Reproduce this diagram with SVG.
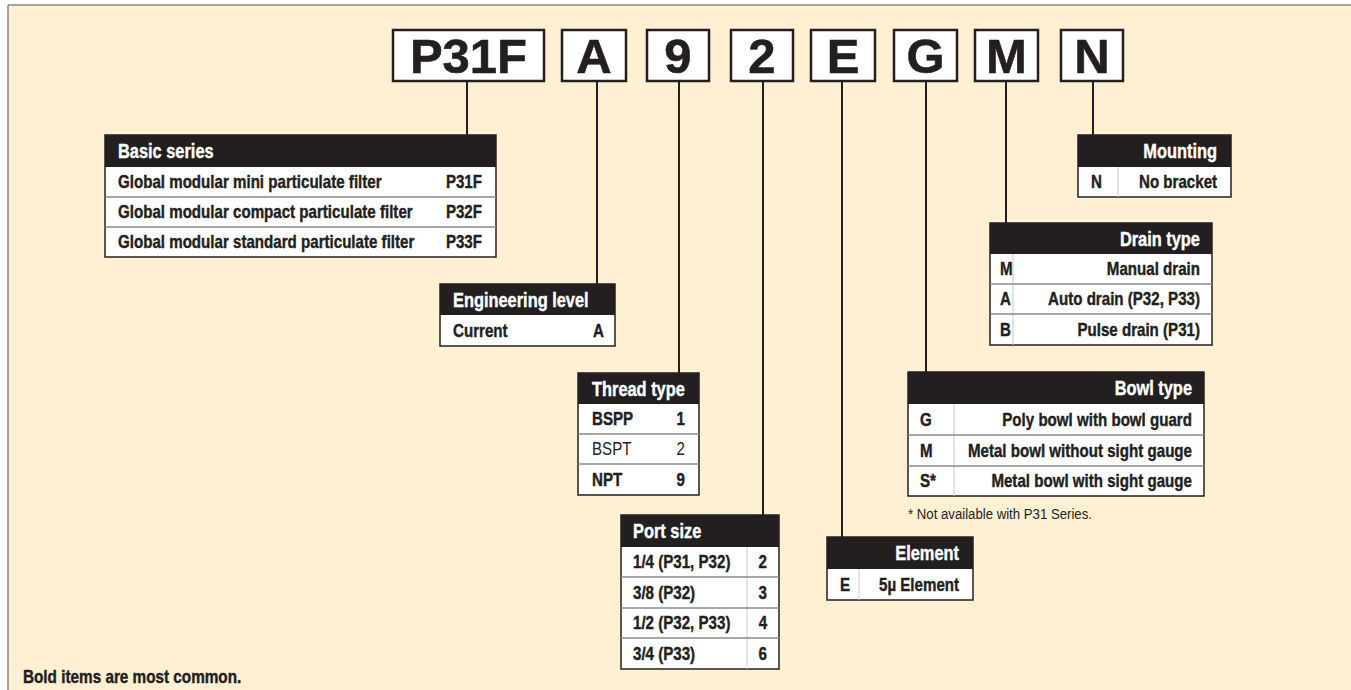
<svg xmlns="http://www.w3.org/2000/svg" width="1351" height="690" viewBox="0 0 1351 690">
<style>
.bg{fill:#fff0d4}
.code{fill:#fff;stroke:#231f20;stroke-width:2.5}
.big{font-family:"Liberation Sans",Arial,sans-serif;font-weight:bold;font-size:49px;fill:#231f20;text-anchor:middle;stroke:#231f20;stroke-width:0.6}
.tbl{fill:#fff;stroke:#231f20;stroke-width:1.5}
.hdr{fill:#231f20}
.sep{stroke:#8a8a8a;stroke-width:1.5}
.div{stroke:#c8c8c8;stroke-width:1}
.ht,.t,.note{transform-box:fill-box;transform-origin:0% 50%}
.ht{font-family:"Liberation Sans",Arial,sans-serif;font-weight:bold;font-size:20px;fill:#fff;stroke:#fff;stroke-width:0.4;transform:scaleX(0.82)}
.t{font-family:"Liberation Sans",Arial,sans-serif;font-weight:bold;font-size:18px;fill:#231f20;stroke:#231f20;stroke-width:0.4;transform:scaleX(0.84)}
.n{font-weight:normal;stroke:none}
.r{text-anchor:end;transform-origin:100% 50%}
.note{font-family:"Liberation Sans",Arial,sans-serif;font-size:15px;fill:#231f20;transform:scaleX(0.88)}
.leg{transform:scaleX(0.85)}
.con{stroke:#231f20;stroke-width:2;fill:none}
</style>
<rect x="0" y="0" width="1351" height="690" fill="#ffffff"/>
<rect class="bg" x="8" y="5" width="1343" height="685"/>
<line x1="8" y1="5" x2="1351" y2="5" stroke="#8a8a8a" stroke-width="1.5"/>
<line x1="8" y1="5" x2="8" y2="690" stroke="#8a8a8a" stroke-width="1.5"/>

<g id="connectors">
<line class="con" x1="467" y1="81" x2="467" y2="135"/>
<line class="con" x1="597" y1="81" x2="597" y2="284"/>
<line class="con" x1="679" y1="81" x2="679" y2="373"/>
<line class="con" x1="763" y1="81" x2="763" y2="515"/>
<line class="con" x1="842" y1="81" x2="842" y2="537"/>
<line class="con" x1="926" y1="81" x2="926" y2="372"/>
<line class="con" x1="1006" y1="81" x2="1006" y2="223"/>
<line class="con" x1="1093" y1="81" x2="1093" y2="135"/>
</g>

<g id="code-P31F"><rect class="code" x="393" y="30" width="151" height="51"/><text class="big" x="468.5" y="73">P31F</text></g>
<g id="code-A"><rect class="code" x="562" y="30" width="64" height="51"/><text class="big" x="594" y="73">A</text></g>
<g id="code-9"><rect class="code" x="647" y="30" width="62" height="51"/><text class="big" x="678" y="73">9</text></g>
<g id="code-2"><rect class="code" x="731" y="30" width="62" height="51"/><text class="big" x="762" y="73">2</text></g>
<g id="code-E"><rect class="code" x="811" y="30" width="64" height="51"/><text class="big" x="843" y="73">E</text></g>
<g id="code-G"><rect class="code" x="894" y="30" width="63" height="51"/><text class="big" x="925.5" y="73">G</text></g>
<g id="code-M"><rect class="code" x="975" y="30" width="63" height="51"/><text class="big" x="1006.5" y="73">M</text></g>
<g id="code-N"><rect class="code" x="1061" y="30" width="62" height="51"/><text class="big" x="1092" y="73">N</text></g>

<g id="basic-series">
<rect class="tbl" x="105" y="135" width="391" height="122"/>
<rect class="hdr" x="105" y="135" width="391" height="32"/>
<line class="sep" x1="105" y1="197" x2="496" y2="197"/>
<line class="sep" x1="105" y1="227" x2="496" y2="227"/>
<text class="ht" x="118" y="158">Basic series</text>
<text class="t" x="118" y="188">Global modular mini particulate filter</text><text class="t r" x="482" y="188">P31F</text>
<text class="t" x="118" y="218">Global modular compact particulate filter</text><text class="t r" x="482" y="218">P32F</text>
<text class="t" x="118" y="248">Global modular standard particulate filter</text><text class="t r" x="482" y="248">P33F</text>
</g>

<g id="engineering-level">
<rect class="tbl" x="440" y="284" width="175" height="62"/>
<rect class="hdr" x="440" y="284" width="175" height="31"/>
<text class="ht" x="453" y="307">Engineering level</text>
<text class="t" x="453" y="337">Current</text><text class="t r" x="604" y="337">A</text>
</g>

<g id="thread-type">
<rect class="tbl" x="578" y="373" width="121" height="122"/>
<rect class="hdr" x="578" y="373" width="121" height="31"/>
<line class="sep" x1="578" y1="434" x2="699" y2="434"/>
<line class="sep" x1="578" y1="464" x2="699" y2="464"/>
<text class="ht" x="592" y="396">Thread type</text>
<text class="t" x="592" y="425">BSPP</text><text class="t r" x="685" y="425">1</text>
<text class="t n" x="592" y="455">BSPT</text><text class="t n r" x="685" y="455">2</text>
<text class="t" x="592" y="486">NPT</text><text class="t r" x="685" y="486">9</text>
</g>

<g id="port-size">
<rect class="tbl" x="621" y="515" width="158" height="154"/>
<rect class="hdr" x="621" y="515" width="158" height="32"/>
<line class="div" x1="747" y1="547" x2="747" y2="669"/>
<line class="sep" x1="621" y1="577" x2="779" y2="577"/>
<line class="sep" x1="621" y1="608" x2="779" y2="608"/>
<line class="sep" x1="621" y1="638" x2="779" y2="638"/>
<text class="ht" x="633" y="538">Port size</text>
<text class="t" x="633" y="568">1/4 (P31, P32)</text><text class="t r" x="767" y="568">2</text>
<text class="t" x="633" y="599">3/8 (P32)</text><text class="t r" x="767" y="599">3</text>
<text class="t" x="633" y="629">1/2 (P32, P33)</text><text class="t r" x="767" y="629">4</text>
<text class="t" x="633" y="660">3/4 (P33)</text><text class="t r" x="767" y="660">6</text>
</g>

<g id="element">
<rect class="tbl" x="827" y="537" width="146" height="63"/>
<rect class="hdr" x="827" y="537" width="146" height="32"/>
<line class="div" x1="859" y1="569" x2="859" y2="600"/>
<text class="ht r" x="959" y="560">Element</text>
<text class="t" x="840" y="591">E</text><text class="t r" x="959" y="591">5µ Element</text>
</g>

<g id="bowl-type">
<rect class="tbl" x="908" y="372" width="296" height="124"/>
<rect class="hdr" x="908" y="372" width="296" height="32"/>
<line class="div" x1="954" y1="404" x2="954" y2="496"/>
<line class="sep" x1="908" y1="435" x2="1204" y2="435"/>
<line class="sep" x1="908" y1="466" x2="1204" y2="466"/>
<text class="ht r" x="1192" y="395">Bowl type</text>
<text class="t" x="920" y="426">G</text><text class="t r" x="1192" y="426">Poly bowl with bowl guard</text>
<text class="t" x="920" y="457">M</text><text class="t r" x="1192" y="457">Metal bowl without sight gauge</text>
<text class="t" x="920" y="487">S*</text><text class="t r" x="1192" y="487">Metal bowl with sight gauge</text>
</g>
<text id="footnote" class="note" x="908" y="519">* Not available with P31 Series.</text>

<g id="drain-type">
<rect class="tbl" x="990" y="223" width="222" height="122"/>
<rect class="hdr" x="990" y="223" width="222" height="31"/>
<line class="div" x1="1013" y1="254" x2="1013" y2="345"/>
<line class="sep" x1="990" y1="284" x2="1212" y2="284"/>
<line class="sep" x1="990" y1="314" x2="1212" y2="314"/>
<text class="ht r" x="1200" y="246">Drain type</text>
<text class="t" x="1000" y="275">M</text><text class="t r" x="1200" y="275">Manual drain</text>
<text class="t" x="1000" y="305">A</text><text class="t r" x="1200" y="305">Auto drain (P32, P33)</text>
<text class="t" x="1000" y="336">B</text><text class="t r" x="1200" y="336">Pulse drain (P31)</text>
</g>

<g id="mounting">
<rect class="tbl" x="1078" y="135" width="153" height="62"/>
<rect class="hdr" x="1078" y="135" width="153" height="32"/>
<line class="div" x1="1118" y1="167" x2="1118" y2="197"/>
<text class="ht r" x="1217" y="158">Mounting</text>
<text class="t" x="1091" y="188">N</text><text class="t r" x="1217" y="188">No bracket</text>
</g>

<text id="legend" class="t leg" x="23" y="683">Bold items are most common.</text>
</svg>
